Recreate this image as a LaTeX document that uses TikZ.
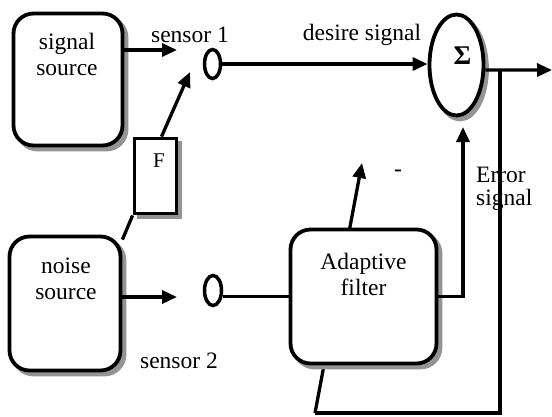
\documentclass[tikz,border=0pt]{standalone}
\usepackage{fontspec}
\setmainfont{Liberation Serif}
\usetikzlibrary{arrows.meta,shapes.geometric,calc}
\begin{document}
\begin{tikzpicture}[x=1pt,y=-1pt,
  txt/.style={font=\fontsize{23.5}{26}\selectfont, inner sep=0pt, align=center},
  shd/.style={fill=black!42, draw=black!42, line width=3.8pt},
  blk/.style={draw, line width=3.8pt, rounded corners=20pt, fill=white, inner sep=0pt},
  fbox/.style={draw, line width=3.8pt, fill=white, inner sep=0pt},
  sens/.style={draw, ellipse, line width=3.5pt, fill=white, inner sep=0pt},
  sumnode/.style={draw, ellipse, line width=3.8pt, fill=white, inner sep=0pt},
  ln/.style={line width=3.3pt},
  arr/.style={line width=3.3pt, -{Triangle[length=15pt,width=13pt]}}]
\useasboundingbox (0,0) rectangle (552,416);
% feedback path (behind adaptive filter)
\coordinate (tap) at (500,70);
\coordinate (out) at (552,70);
\coordinate (fb1) at (500,413);
\coordinate (fb2) at (315,413);
\coordinate (adj) at (362,163);
\draw[ln] (tap) -- (fb1) -- (fb2);
\draw[arr] (fb2) -- (adj);
% shadows (shape shifted 4px right and down)
\filldraw[shd, rounded corners=20pt] (17.5,17.5) rectangle (126.5,149.5);
\filldraw[shd, rounded corners=20pt] (13.5,240.5) rectangle (124.5,374.5);
\filldraw[shd, rounded corners=20pt] (294.5,233.5) rectangle (440.5,367.5);
\filldraw[shd] (138.5,142.5) rectangle (180.5,217.5);
\filldraw[shd] (460,69) ellipse [x radius=27pt, y radius=50.5pt];
% blocks
\node[blk, minimum width=109pt, minimum height=132pt] (sigsrc) at (68,79.5) {};
\node[blk, minimum width=111pt, minimum height=134pt] (noise) at (65,303.5) {};
\node[blk, minimum width=146pt, minimum height=134pt] (filt) at (363.5,296.5) {};
\node[fbox, minimum width=42pt, minimum height=75pt] (F) at (155.5,176) {};
\node[sumnode, minimum width=54pt, minimum height=101pt] (sigma) at (456.5,65) {};
\node[sens, minimum width=16pt, minimum height=29pt] (s1) at (212.5,64) {};
\node[sens, minimum width=17pt, minimum height=30pt] (s2) at (213,290.5) {};
% texts
\node[txt, anchor=base] (tsig) at (67,75) {signal\\source};
\node[txt, anchor=base] (tnoi) at (66,299) {noise\\source};
\node[txt, anchor=base] (tfil) at (363.5,295) {Adaptive\\filter};
\node[txt, font=\fontsize{21}{24}\selectfont, anchor=base] (tF) at (159,167) {F};
\node[txt, font=\fontsize{27}{30}\selectfont\bfseries] (tsum) at (462.5,56) {Σ};
\node[txt, anchor=base] (ts1) at (190,42) {sensor 1};
\node[txt, anchor=base] (tds) at (362,40) {desire signal};
\node[txt, anchor=base] (ts2) at (179,368) {sensor 2};
\node[txt, anchor=base west, align=left, font=\fontsize{23.5}{23}\selectfont] (terr) at (476,205) {Error\\signal};
\node[txt] (tminus) at (398,173) {-};
% connectors
\coordinate (t1) at (177,50);
\coordinate (t2) at (190,72);
\coordinate (t3) at (177,297);
\coordinate (errtip) at (463,127);
\draw[arr] (sigsrc.east |- t1) -- (t1);
\draw[arr] ($(F.north)+(6,0)$) -- (t2);
\draw[ln] ($(noise.north east)+(0,5)$) -- (F.south west);
\draw[arr] (noise.east |- t3) -- (t3);
\draw[ln] (s2.east |- filt.west) -- (filt.west);
\draw[arr] (s1.east) -- (s1.east -| sigma.west);
\draw[arr] (sigma.-10) -- (out);
\draw[arr] (filt.east) -| (errtip);
\end{tikzpicture}
\end{document}
